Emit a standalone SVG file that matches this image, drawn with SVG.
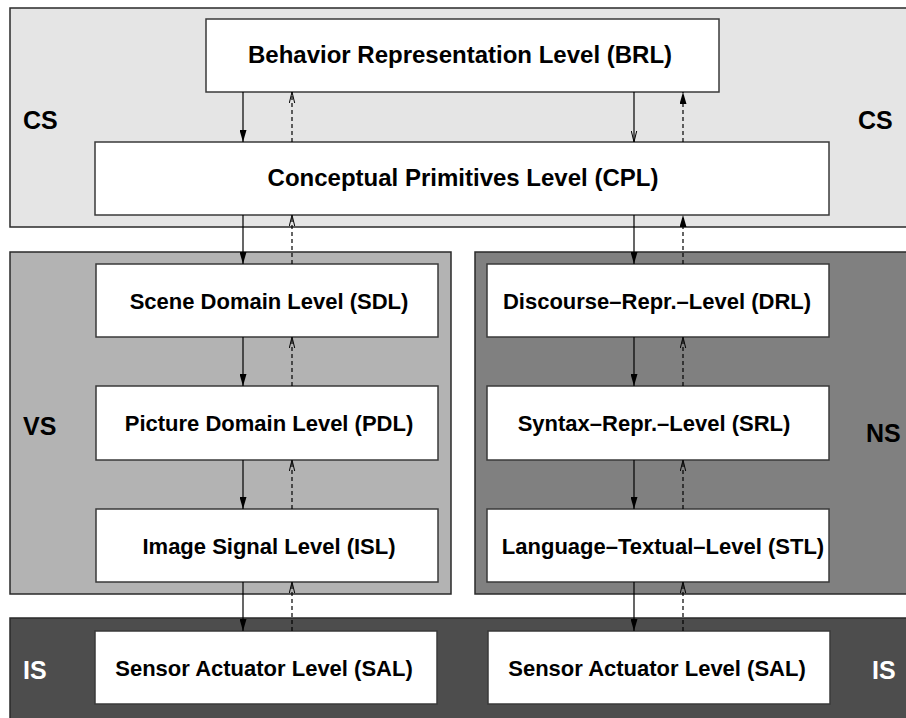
<svg xmlns="http://www.w3.org/2000/svg" width="906" height="718" viewBox="0 0 906 718">
<style>
.region{stroke:#2a2a2a;stroke-width:1.5}
.box{fill:#ffffff;stroke:#3a3a3a;stroke-width:1.5}
.t{font-family:"Liberation Sans",Arial,Helvetica,sans-serif;font-weight:bold;text-anchor:middle;fill:#000}
.big{font-size:24px}
.mid{font-size:22px}
.lab{font-family:"Liberation Sans",Arial,Helvetica,sans-serif;font-weight:bold;font-size:25px;fill:#000}
.solid{stroke:#000;stroke-width:1.2;fill:none}
.dash{stroke:#000;stroke-width:1.2;fill:none;stroke-dasharray:4 3}
</style>
<defs>
<marker id="af" viewBox="0 0 12 7" refX="12" refY="3.5" markerWidth="12" markerHeight="7" markerUnits="userSpaceOnUse" orient="auto">
<path d="M0,0 L12,3.5 L0,7 z" fill="#000"/>
</marker>
<marker id="ah" viewBox="0 0 12 7" refX="11.5" refY="3.5" markerWidth="12" markerHeight="7" markerUnits="userSpaceOnUse" orient="auto">
<path d="M0.5,0.8 L11.5,3.5 L0.5,6.2" fill="none" stroke="#000" stroke-width="1"/>
</marker>
</defs>

<g id="regions">
<rect id="cs-region" class="region" x="10" y="8" width="900" height="219" fill="#e5e5e5"/>
<rect id="vs-region" class="region" x="10" y="252" width="441" height="342" fill="#b3b3b3"/>
<rect id="ns-region" class="region" x="475" y="252" width="435" height="342" fill="#808080"/>
<rect id="is-region" class="region" x="10" y="618" width="900" height="105" fill="#4d4d4d"/>
</g>

<g id="region-labels">
<text class="lab" x="23" y="129">CS</text>
<text class="lab" x="858" y="129">CS</text>
<text class="lab" x="23" y="435">VS</text>
<text class="lab" x="866" y="442">NS</text>
<text class="lab" x="23" y="679" fill="#ffffff" style="fill:#fff">IS</text>
<text class="lab" x="872" y="679" style="fill:#fff">IS</text>
</g>

<g id="BRL"><rect class="box" x="206" y="19" width="513" height="73"/><text class="t big" x="460" y="63">Behavior Representation Level (BRL)</text></g>
<g id="CPL"><rect class="box" x="95" y="142" width="734" height="73"/><text class="t big" x="463" y="186">Conceptual Primitives Level (CPL)</text></g>
<g id="SDL"><rect class="box" x="96" y="264" width="342" height="73"/><text class="t mid" x="269" y="309">Scene Domain Level (SDL)</text></g>
<g id="PDL"><rect class="box" x="96" y="386" width="342" height="74"/><text class="t mid" x="269" y="431">Picture Domain Level (PDL)</text></g>
<g id="ISL"><rect class="box" x="96" y="509" width="342" height="73"/><text class="t mid" x="269" y="554">Image Signal Level (ISL)</text></g>
<g id="DRL"><rect class="box" x="487" y="264" width="342" height="73"/><text class="t mid" x="657" y="309">Discourse–Repr.–Level (DRL)</text></g>
<g id="SRL"><rect class="box" x="487" y="386" width="342" height="74"/><text class="t mid" x="654" y="431">Syntax–Repr.–Level (SRL)</text></g>
<g id="STL"><rect class="box" x="487" y="509" width="342" height="73"/><text class="t mid" x="663" y="554">Language–Textual–Level (STL)</text></g>
<g id="SAL1"><rect class="box" x="95" y="631" width="342" height="73"/><text class="t mid" x="264" y="676">Sensor Actuator Level (SAL)</text></g>
<g id="SAL2"><rect class="box" x="488" y="631" width="342" height="73"/><text class="t mid" x="657" y="676">Sensor Actuator Level (SAL)</text></g>

<g id="connectors">
<line class="solid" x1="243" y1="92" x2="243" y2="142" marker-end="url(#af)"/>
<line class="dash" x1="292" y1="142" x2="292" y2="92" marker-end="url(#ah)"/>
<line class="solid" x1="634" y1="92" x2="634" y2="142" marker-end="url(#ah)"/>
<line class="dash" x1="683" y1="142" x2="683" y2="92" marker-end="url(#af)"/>

<line class="solid" x1="243" y1="215" x2="243" y2="264" marker-end="url(#af)"/>
<line class="dash" x1="292" y1="264" x2="292" y2="215" marker-end="url(#ah)"/>
<line class="solid" x1="634" y1="215" x2="634" y2="264" marker-end="url(#af)"/>
<line class="dash" x1="683" y1="264" x2="683" y2="215" marker-end="url(#af)"/>

<line class="solid" x1="243" y1="337" x2="243" y2="386" marker-end="url(#af)"/>
<line class="dash" x1="292" y1="386" x2="292" y2="337" marker-end="url(#ah)"/>
<line class="solid" x1="634" y1="337" x2="634" y2="386" marker-end="url(#af)"/>
<line class="dash" x1="683" y1="386" x2="683" y2="337" marker-end="url(#ah)"/>

<line class="solid" x1="243" y1="460" x2="243" y2="509" marker-end="url(#af)"/>
<line class="dash" x1="292" y1="509" x2="292" y2="460" marker-end="url(#ah)"/>
<line class="solid" x1="634" y1="460" x2="634" y2="509" marker-end="url(#af)"/>
<line class="dash" x1="683" y1="509" x2="683" y2="460" marker-end="url(#ah)"/>

<line class="solid" x1="243" y1="582" x2="243" y2="631" marker-end="url(#af)"/>
<line class="dash" x1="292" y1="631" x2="292" y2="582" marker-end="url(#ah)"/>
<line class="solid" x1="634" y1="582" x2="634" y2="631" marker-end="url(#af)"/>
<line class="dash" x1="683" y1="631" x2="683" y2="582" marker-end="url(#ah)"/>
</g>
</svg>
